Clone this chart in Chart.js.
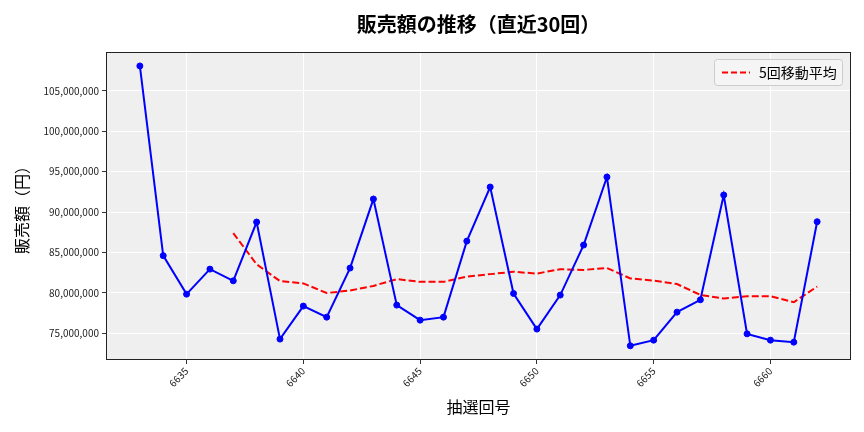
<!DOCTYPE html>
<html>
<head>
<meta charset="utf-8">
<script src="https://cdn.jsdelivr.net/npm/chart.js@4"></script>
<style>
  html, body { margin: 0; padding: 0; background: #fff; }
  #wrap { width: 864px; height: 432px; }
</style>
</head>
<body>
<div id="wrap"><canvas id="salesChart" width="864" height="432"></canvas></div>
<script>
const draws = [6633, 6634, 6635, 6636, 6637, 6638, 6639, 6640, 6641, 6642,
  6643, 6644, 6645, 6646, 6647, 6648, 6649, 6650, 6651, 6652,
  6653, 6654, 6655, 6656, 6657, 6658, 6659, 6660, 6661, 6662]

const sales = [108100000, 84600000, 79830000, 82930000, 81480000, 88760000, 74260000, 78350000, 76980000, 83060000,
  91610000, 78470000, 76610000, 76980000, 86400000, 93100000, 79910000, 75500000, 79710000, 85910000,
  94340000, 73430000, 74130000, 77600000, 79130000, 92110000, 74910000, 74130000, 73880000, 88800000]

// 5回移動平均 (first 4 draws have no value)
const movingAvg = [null, null, null, null, 87390000, 83520000, 81450000, 81160000, 79970000, 80280000,
  80850000, 81690000, 81350000, 81350000, 82010000, 82310000, 82600000, 82380000, 82920000, 82830000,
  83070000, 81780000, 81500000, 81080000, 79730000, 79280000, 79580000, 79580000, 78830000, 80770000]

const xTicks = [6635, 6640, 6645, 6650, 6655, 6660]
const yTicks = [75000000, 80000000, 85000000, 90000000, 95000000, 100000000, 105000000]

const FONT = "'Noto Sans CJK JP', 'Noto Sans', sans-serif"

const frame = {
  id: 'frame',
  beforeDraw(chart) {
    const {ctx, chartArea: a} = chart
    ctx.save()
    ctx.fillStyle = '#efefef'
    ctx.fillRect(a.left, a.top, a.right - a.left, a.bottom - a.top)
    ctx.restore()
  },
  afterDraw(chart) {
    const {ctx, chartArea: a} = chart
    ctx.save()
    ctx.strokeStyle = '#222'
    ctx.lineWidth = 1
    ctx.strokeRect(a.left + 0.5, a.top + 0.5, a.right - a.left - 1, a.bottom - a.top - 1)

    // title over the plot area
    ctx.fillStyle = '#000'
    ctx.font = 'bold 20px ' + FONT
    ctx.textAlign = 'center'
    ctx.textBaseline = 'middle'
    ctx.fillText('販売額の推移（直近30回）', (a.left + a.right) / 2, 24)

    // legend (moving average only)
    const bx = a.right - 137, by = a.top + 7, bw = 128, bh = 26
    ctx.fillStyle = 'rgba(245,245,245,0.9)'
    ctx.strokeStyle = '#cccccc'
    ctx.beginPath()
    ctx.roundRect(bx + 0.5, by + 0.5, bw, bh, 3)
    ctx.fill()
    ctx.stroke()
    ctx.strokeStyle = 'red'
    ctx.lineWidth = 2
    ctx.setLineDash([6, 3])
    ctx.beginPath()
    ctx.moveTo(bx + 8, by + 13.5)
    ctx.lineTo(bx + 36, by + 13.5)
    ctx.stroke()
    ctx.setLineDash([])
    ctx.fillStyle = '#000'
    ctx.font = '14px ' + FONT
    ctx.textAlign = 'left'
    ctx.fillText('5回移動平均', bx + 45, by + 13.5)
    ctx.restore()
  }
}

const salesChart = new Chart(
  document.getElementById('salesChart'),
  {
    type: 'line',
    data: {
      labels: draws,
      datasets: [
        {
          label: '販売額',
          data: draws.map((d, i) => ({x: d, y: sales[i]})),
          borderColor: '#0000ff',
          backgroundColor: '#0000ff',
          borderWidth: 2,
          pointRadius: 3,
          pointBorderWidth: 1,
          pointHoverRadius: 3,
          tension: 0,
        },
        {
          label: '5回移動平均',
          data: draws.map((d, i) => ({x: d, y: movingAvg[i]})),
          borderColor: '#ff0000',
          borderWidth: 2,
          borderDash: [7, 3],
          pointRadius: 0,
          tension: 0,
        },
      ],
    },
    options: {
      responsive: false,
      animation: false,
      layout: {
        padding: {top: 52, right: 13, left: 0, bottom: 0}
      },
      scales: {
        x: {
          type: 'linear',
          min: 6631.55,
          max: 6663.45,
          afterBuildTicks: scale => { scale.ticks = xTicks.map(v => ({value: v})) },
          afterFit: scale => { scale.height = 72 },
          grid: {color: '#ffffff', lineWidth: 1, tickColor: '#333', tickLength: 4},
          border: {display: false},
          ticks: {
            minRotation: 45,
            maxRotation: 45,
            padding: 1,
            color: '#222',
            font: {family: FONT, size: 10},
            callback: v => String(v),
          },
          title: {
            display: true,
            text: '抽選回号',
            color: '#000',
            font: {family: FONT, size: 16},
            padding: {top: 0, bottom: 15},
          },
        },
        y: {
          min: 71670000,
          max: 109830000,
          afterBuildTicks: scale => { scale.ticks = yTicks.map(v => ({value: v})) },
          afterFit: scale => { scale.width = 106 },
          grid: {color: '#ffffff', lineWidth: 1, tickColor: '#333', tickLength: 4},
          border: {display: false},
          ticks: {
            padding: 3,
            color: '#222',
            font: {family: FONT, size: 10},
            callback: v => v.toLocaleString('en-US'),
          },
          title: {
            display: true,
            text: '販売額（円）',
            color: '#000',
            font: {family: FONT, size: 16},
            padding: {top: 12, bottom: 0},
          },
        },
      },
      plugins: {
        legend: {display: false},
        tooltip: {enabled: false},
      },
    },
    plugins: [frame],
  }
);
</script>
</body>
</html>
